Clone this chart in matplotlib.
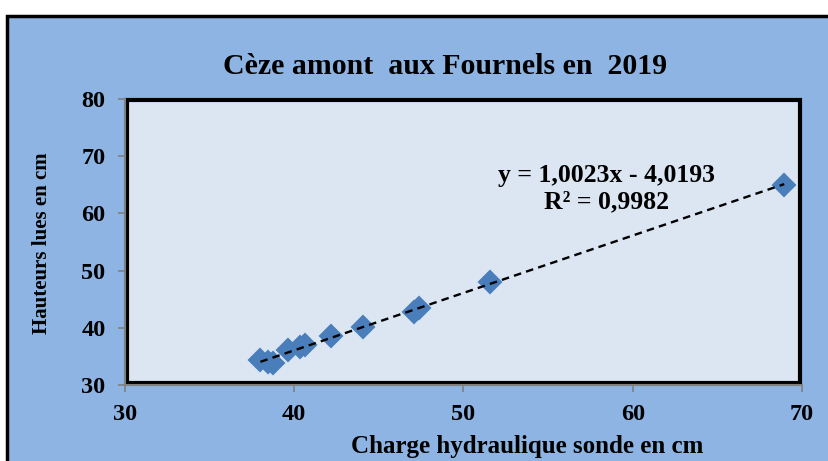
import numpy as np
import matplotlib
matplotlib.use("Agg")
import matplotlib.pyplot as plt
from matplotlib.patches import Rectangle

# Data
charge_sonde = [38.0, 38.45, 38.75, 39.65, 40.35, 40.65, 42.2, 44.05, 47.05, 47.4, 51.55, 68.95]
hauteurs_lues = [34.4, 34.0, 33.9, 36.1, 36.6, 37.0, 38.6, 40.2, 42.8, 43.4, 48.0, 65.0]
x_ticks = [30, 40, 50, 60, 70]
y_ticks = [30, 40, 50, 60, 70, 80]
title = "Cèze amont  aux Fournels en  2019"
xlabel = "Charge hydraulique sonde en cm"
ylabel = "Hauteurs lues en cm"
equation = "y = 1,0023x - 4,0193\nR² = 0,9982"

plt.rcParams['font.family'] = ['Liberation Serif', 'DejaVu Serif']
plt.rcParams['font.weight'] = 'bold'

fig = plt.figure(figsize=(8.29, 4.61), dpi=100, facecolor='white')

outer_blue = '#8DB4E2'
fig.patches.append(Rectangle((7/829, -0.1), 1.2, 1 - 16/461 + 0.1, transform=fig.transFigure,
                             facecolor=outer_blue, edgecolor='black', linewidth=2.5, zorder=-10))

ax = fig.add_axes([125/829, 1 - 385/461, 677/829, 286/461])
ax.set_facecolor('#DCE6F2')
ax.set_xlim(30, 70)
ax.set_ylim(30, 80)
ax.set_xticks(x_ticks)
ax.set_yticks(y_ticks)
for s in ax.spines.values():
    s.set_color('#808080')
    s.set_linewidth(1.5)
ax.spines['top'].set_visible(False)
ax.spines['right'].set_visible(False)
ax.add_patch(Rectangle((0.003, 0.008), 0.994, 0.99, transform=ax.transAxes, fill=False,
                       edgecolor='black', linewidth=3, zorder=1, clip_on=False))
ax.tick_params(direction='out', length=5, width=1.2, color='#808080', labelsize=17.5)
ax.tick_params(axis='y', pad=9)
ax.tick_params(axis='x', pad=9)
for lab in ax.get_xticklabels() + ax.get_yticklabels():
    lab.set_fontweight('bold')

x = np.array(charge_sonde)
y = np.array(hauteurs_lues)
slope, intercept = np.polyfit(x, y, 1)
xl = np.array([x.min(), x.max()])
ax.plot(xl, slope * xl + intercept, color='black', linestyle=(0, (3.2, 2.2)), linewidth=1.7, zorder=4)
ax.plot(x, y, linestyle='none', marker='D', markersize=11, color='#4A7EBB',
        markeredgecolor='#4A7EBB', markeredgewidth=1.5, zorder=3)

ax.text(607/829, 1 - 189/461, equation, transform=fig.transFigure, ha='center', va='center',
        fontsize=18.5, fontweight='bold', linespacing=1.2)

fig.text(445/829, 1 - 66/461, title, ha='center', va='center', fontsize=21.5, fontweight='bold')
fig.text(527/829, 1 - 446/461, xlabel, ha='center', va='center', fontsize=18, fontweight='bold')
fig.text(42/829, 1 - 243/461, ylabel, ha='center', va='center', rotation=90, fontsize=15,
         fontweight='bold')

fig.savefig('out.png', dpi=100, facecolor='white')
